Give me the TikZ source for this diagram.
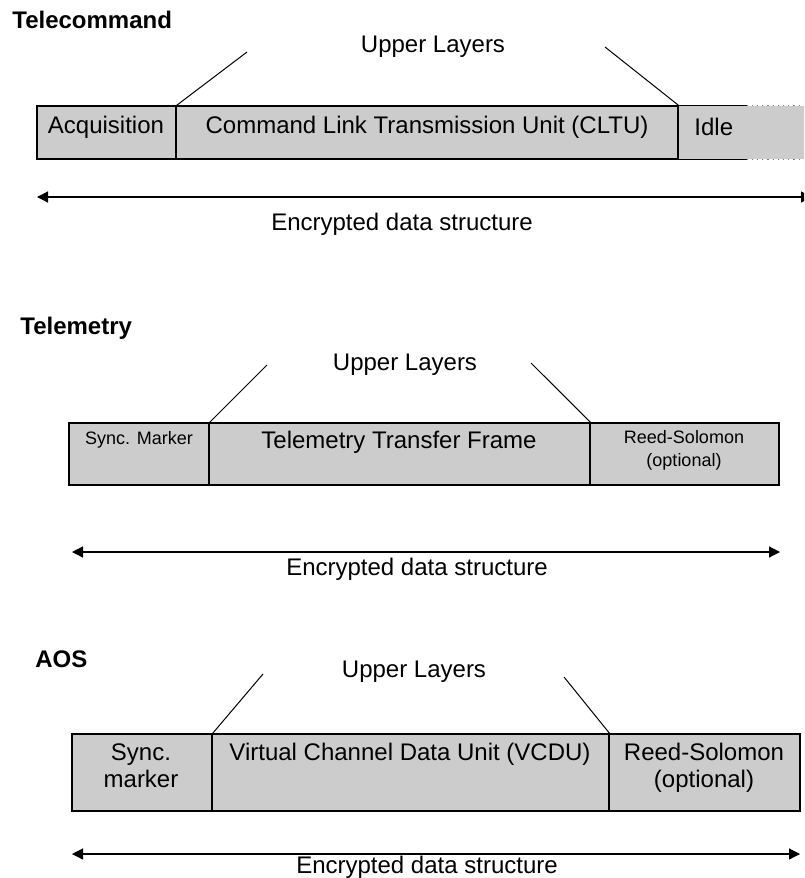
\documentclass[tikz,border=0pt]{standalone}
\usepackage{fontspec}
\setmainfont{Liberation Sans}
\usetikzlibrary{arrows.meta,fit}
\definecolor{fieldgray}{RGB}{204,204,204}
\tikzset{
  field/.style = {rectangle, draw=black, fill=fieldgray, line width=0.6pt,
    inner sep=0pt},% grey box of a frame field
  txt/.style = {inner sep=0pt, anchor=base, align=center,
    font=\fontsize{12pt}{13.5pt}\selectfont},
  small/.style = {txt, font=\fontsize{9pt}{11.5pt}\selectfont},% smaller field text
  title/.style = {txt, anchor=base west, font=\fontsize{12pt}{14pt}\selectfont\bfseries},
  link/.style = {line width=0.5pt},
  span/.style = {<->, line width=0.6pt}% encrypted span
}

\begin{document}
\begin{tikzpicture}[x=0.5pt,y=-0.5pt,>={Triangle[length=5.5pt,width=5.5pt]}]
\clip (0,0) rectangle (804,878);
% Telecommand
\node[title] (tcTitle) at (12,28) {Telecommand};
\node[txt] (tcUp) at (433,53) {Upper Layers};
\node[fit={(678,106) (812,159)}, fill=fieldgray, inner sep=0pt] (idle) {};
\node[field, fit={(37,106) (176,159)}] (acq) {};
\node[field, fit={(176,106) (678,159)}] (cltu) {};
\draw[line width=0.6pt] (idle.north west) -- +(69,0);
\draw[line width=0.6pt] (idle.south west) -- +(69,0);
\draw[gray, dotted, line width=0.6pt] (idle.north west) ++(69,0) -- (idle.north east);
\draw[gray, dotted, line width=0.6pt] (idle.south west) ++(69,0) -- (idle.south east);
\node[txt] (acqT) at (106,133) {Acquisition};
\node[txt] (cltuT) at (427,133) {Command Link Transmission Unit (CLTU)};
\node[txt, anchor=base west] (idleT) at (694,135) {Idle};
\coordinate (tcUL) at (247,52);
\coordinate (tcUR) at (605,47);
\draw[link] (tcUL) -- (acq.north east);
\draw[link] (tcUR) -- (cltu.north east);
\coordinate (tcA) at (37,197);
\coordinate (tcB) at (812,197);
\draw[span] (tcA) -- (tcB);
\node[txt] (tcEnc) at (402,230) {Encrypted data structure};

% Telemetry
\node[title] (tmTitle) at (20,334) {Telemetry};
\node[txt] (tmUp) at (405,370) {Upper Layers};
\node[field, fit={(69,423) (209,485)}] (tmSync) {};
\node[field, fit={(209,423) (590,485)}] (ttf) {};
\node[field, fit={(590,423) (779,485)}] (tmRs) {};
\node[small] (tmSyncT) at (139,444) {Sync. Marker};
\node[txt] (ttfT) at (399,448) {Telemetry Transfer Frame};
\node[small] (tmRsT) at (684,466) {Reed-Solomon\\(optional)};
\coordinate (tmUL) at (267,365);
\coordinate (tmUR) at (531,363);
\draw[link] (tmUL) -- (tmSync.north east);
\draw[link] (tmUR) -- (ttf.north east);
\coordinate (tmA) at (72,552);
\coordinate (tmB) at (780,552);
\draw[span] (tmA) -- (tmB);
\node[txt] (tmEnc) at (417,575) {Encrypted data structure};

% AOS
\node[title] (aosTitle) at (35,667) {AOS};
\node[txt] (aosUp) at (414,677) {Upper Layers};
\node[field, fit={(72,734) (212,811)}] (aosSync) {};
\node[field, fit={(212,734) (609,811)}] (vcdu) {};
\node[field, fit={(609,734) (800,811)}] (aosRs) {};
\node[txt] (aosSyncT) at (141,787) {Sync.\\marker};
\node[txt] (vcduT) at (410,760) {Virtual Channel Data Unit (VCDU)};
\node[txt] (aosRsT) at (704,787) {Reed-Solomon\\(optional)};
\coordinate (aosUL) at (263,674);
\coordinate (aosUR) at (564,677);
\draw[link] (aosUL) -- (aosSync.north east);
\draw[link] (aosUR) -- (vcdu.north east);
\coordinate (aosA) at (72,854);
\coordinate (aosB) at (800,854);
\draw[span] (aosA) -- (aosB);
\node[txt] (aosEnc) at (427,873) {Encrypted data structure};
\end{tikzpicture}
\end{document}
